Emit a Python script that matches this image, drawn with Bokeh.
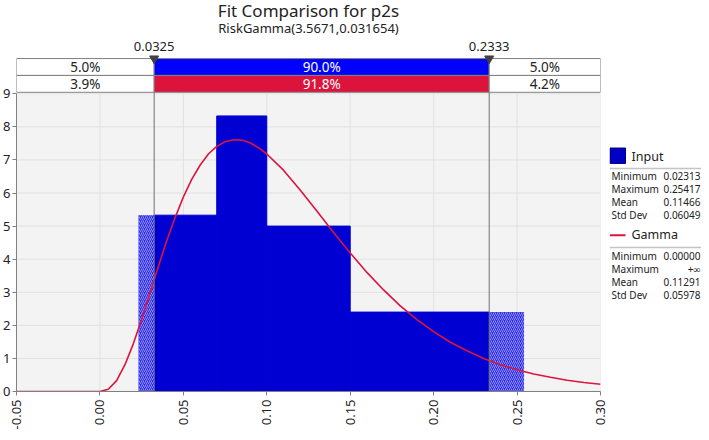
import math
import numpy as np
from bokeh.plotting import figure
from bokeh.models import Range1d, FixedTicker, NumeralTickFormatter
from bokeh.layouts import row
from bokeh.core.properties import value
from bokeh.embed import file_html
from bokeh.resources import INLINE

# ---------------- data ----------------
title = "Fit Comparison for p2s"
subtitle = "RiskGamma(3.5671,0.031654)"

bin_edges = [0.02313, 0.07, 0.10, 0.15, 0.25417]
densities = [5.33, 8.33, 5.00, 2.40]

markers = [0.0325, 0.2333]
marker_labels = ["0.0325", "0.2333"]
input_pct = [5.0, 90.0, 5.0]
fit_pct = [3.9, 91.8, 4.2]

curve_x = [-0.05, 0.00, 0.005, 0.01, 0.015, 0.02, 0.025, 0.03, 0.035, 0.04, 0.045,
           0.05, 0.055, 0.06, 0.065, 0.07, 0.075, 0.08, 0.085, 0.09, 0.095, 0.10,
           0.11, 0.12, 0.13, 0.14, 0.15, 0.16, 0.17, 0.18, 0.19, 0.20, 0.21, 0.22,
           0.23, 0.24, 0.25, 0.26, 0.27, 0.28, 0.29, 0.30]
curve_y = [0.0, 0.0, 0.07, 0.33, 0.81, 1.44, 2.18, 2.98, 3.78, 4.55, 5.25,
           5.88, 6.41, 6.84, 7.18, 7.41, 7.55, 7.61, 7.60, 7.52, 7.37, 7.18,
           6.69, 6.09, 5.46, 4.81, 4.19, 3.60, 3.07, 2.59, 2.17, 1.81, 1.49, 1.23,
           1.00, 0.81, 0.66, 0.53, 0.43, 0.34, 0.27, 0.22]

x_ticks = [-0.05, 0.00, 0.05, 0.10, 0.15, 0.20, 0.25, 0.30]
y_ticks = [0, 1, 2, 3, 4, 5, 6, 7, 8, 9]

stat_names = ["Minimum", "Maximum", "Mean", "Std Dev"]
input_stats = ["0.02313", "0.25417", "0.11466", "0.06049"]
gamma_stats = ["0.00000", "+\u221e", "0.11291", "0.05978"]
legend_names = ["Input", "Gamma"]

# ---------------- style / layout ----------------
FONT = "Noto Sans"
TXT = "#222222"
BLUE_SOLID = "#0000d2"
BLUE_BAND = "#0000ff"
RED = "#dc143c"
GRID = "#e1e1e1"
BG = "#f3f3f3"
BORDER = "#808080"

X_LO, X_HI = x_ticks[0], x_ticks[-1]
Y_TOP = y_ticks[-1]
W_MAIN, W_LEG, H = 609, 92, 432
FRAME_H = 394          # frame height in px (frame top = canvas top)
Y9_PX = 94             # px from frame top where y = 9 sits
y_max = Y_TOP + Y9_PX * Y_TOP / (FRAME_H - Y9_PX)

TITLE_Y, SUB_Y, MLAB_Y = 10, 27.5, 46
ROW_T, ROW_M, ROW_B = 58.5, 75.5, 92.5

p = figure(width=W_MAIN, height=H, x_range=Range1d(X_LO, X_HI),
           y_range=Range1d(0, y_max), output_backend="svg", toolbar_location=None,
           min_border_left=15, min_border_right=9, min_border_top=0,
           min_border_bottom=H - FRAME_H, background_fill_color="white",
           border_fill_color="white", outline_line_color=None)
p.extra_y_ranges = {"px": Range1d(FRAME_H, 0)}
p.xgrid.visible = False
p.ygrid.visible = False

# axes
p.xaxis.ticker = FixedTicker(ticks=x_ticks)
p.xaxis.formatter = NumeralTickFormatter(format="0.00")
p.xaxis.major_label_orientation = math.pi / 2
p.yaxis.ticker = FixedTicker(ticks=y_ticks)
p.yaxis.bounds = (0, Y_TOP)
for ax in (p.xaxis, p.yaxis):
    ax.axis_line_color = BORDER
    ax.major_tick_line_color = BORDER
    ax.minor_tick_line_color = None
    ax.major_tick_in = 0
    ax.major_tick_out = 4
    ax.major_label_text_font = FONT
    ax.major_label_text_font_size = "13px"
    ax.major_label_text_color = TXT
p.xaxis.major_label_standoff = 4
p.yaxis.major_label_standoff = 2

# plot background and grid
p.quad(left=[X_LO], right=[X_HI], bottom=[0], top=[Y_TOP], fill_color=BG, line_color=None)
p.segment(x0=[X_LO] * len(y_ticks), x1=[X_HI] * len(y_ticks), y0=y_ticks, y1=y_ticks,
          line_color=GRID, line_width=1)
p.segment(x0=x_ticks, x1=x_ticks, y0=[0] * len(x_ticks), y1=[Y_TOP] * len(x_ticks),
          line_color=GRID, line_width=1)

# histogram bars, split at markers (outside parts hatched)
edges = np.array(bin_edges)
L, R, Hh = edges[:-1], edges[1:], np.array(densities)
lo, hi = markers
sL, sR = np.maximum(L, lo), np.minimum(R, hi)
m = sR > sL
p.quad(left=sL[m], right=sR[m], bottom=0, top=Hh[m], fill_color=BLUE_SOLID,
       line_color=BLUE_SOLID, line_width=1)
hl = L < lo
hr = R > hi
hatch_left = np.concatenate([L[hl], np.maximum(L[hr], hi)])
hatch_right = np.concatenate([np.minimum(R[hl], lo), R[hr]])
hatch_top = np.concatenate([Hh[hl], Hh[hr]])
p.quad(left=hatch_left, right=hatch_right, bottom=0, top=hatch_top,
       fill_color="#2a2ae6", line_color=None, hatch_pattern="/",
       hatch_color="#9090ff", hatch_scale=4, hatch_weight=1)

# fitted curve
p.line(curve_x, curve_y, line_color=RED, line_width=1.6)

# marker vertical lines (from y=0 up to band top)
p.segment(x0=markers, x1=markers, y0=[FRAME_H] * 2, y1=[ROW_T] * 2,
          line_color="#707070", line_width=1, y_range_name="px")

# percentage bands
def band(vals, top, bottom, mid_color):
    lefts = [X_LO, markers[0], markers[1]]
    rights = [markers[0], markers[1], X_HI]
    colors = ["white", mid_color, "white"]
    p.quad(left=lefts, right=rights, top=[top] * 3, bottom=[bottom] * 3,
           fill_color=colors, line_color=BORDER, line_width=1, y_range_name="px")
    centers = [(a + b) / 2 for a, b in zip(lefts, rights)]
    p.text(x=centers, y=[(top + bottom) / 2 + 0.5] * 3,
           text=["%.1f%%" % v for v in vals],
           text_color=[TXT, "white", TXT], text_align="center",
           text_baseline="middle", text_font=value(FONT),
           text_font_size=value("13.5px"), y_range_name="px")

band(input_pct, ROW_T, ROW_M, BLUE_BAND)
band(fit_pct, ROW_M, ROW_B, RED)

# marker triangles and labels
p.scatter(x=markers, y=[ROW_T] * 2, marker="inverted_triangle", size=9,
          fill_color="#404040", line_color="#404040", y_range_name="px")
p.text(x=markers, y=[MLAB_Y] * 2, text=marker_labels, text_align="center",
       text_baseline="middle", text_font=value(FONT), text_font_size=value("13px"),
       text_color=TXT, y_range_name="px")

# titles
xc = (X_LO + X_HI) / 2
p.text(x=[xc], y=[TITLE_Y], text=[title], text_align="center", text_baseline="middle",
       text_font=value(FONT), text_font_size=value("17px"), text_color=TXT,
       y_range_name="px")
p.text(x=[xc], y=[SUB_Y], text=[subtitle], text_align="center", text_baseline="middle",
       text_font=value(FONT), text_font_size=value("13px"), text_color=TXT,
       y_range_name="px")

# ---------------- legend panel ----------------
leg = figure(width=W_LEG, height=H, x_range=Range1d(0, W_LEG), y_range=Range1d(H, 0),
             output_backend="svg", toolbar_location=None, min_border=0,
             outline_line_color=None, background_fill_color="white",
             border_fill_color="white")
leg.axis.visible = False
leg.grid.visible = False

def stats_block(y0, vals):
    ys = [y0 + 14.4 * i for i in range(len(stat_names))]
    leg.text(x=[2] * len(ys), y=ys, text=stat_names, text_align="left",
             text_baseline="middle", text_font=value(FONT),
             text_font_size=value("10px"), text_color=TXT)
    leg.text(x=[W_LEG - 1] * len(ys), y=ys, text=vals, text_align="right",
             text_baseline="middle", text_font=value(FONT),
             text_font_size=value("10px"), text_color=TXT)

# Input entry
leg.quad(left=[0.5], right=[16], top=[163], bottom=[180], fill_color="#0000c4",
         line_color="#00007a", line_width=1)
leg.text(x=[22], y=[172], text=[legend_names[0]], text_align="left",
         text_baseline="middle", text_font=value(FONT), text_font_size=value("12.5px"),
         text_color=TXT)
leg.segment(x0=[0], x1=[W_LEG], y0=[185.7], y1=[185.7], line_color="#c4c4c4",
            line_width=1.5)
stats_block(194, input_stats)

# Gamma entry
leg.segment(x0=[0.5], x1=[16], y0=[259.5], y1=[259.5], line_color=RED, line_width=2)
leg.text(x=[22], y=[259], text=[legend_names[1]], text_align="left",
         text_baseline="middle", text_font=value(FONT), text_font_size=value("12.5px"),
         text_color=TXT)
leg.segment(x0=[0], x1=[W_LEG], y0=[273], y1=[273], line_color="#c4c4c4",
            line_width=1.5)
stats_block(282, gamma_stats)

layout = row(p, leg)
open("out.html", "w").write(file_html(layout, INLINE))
